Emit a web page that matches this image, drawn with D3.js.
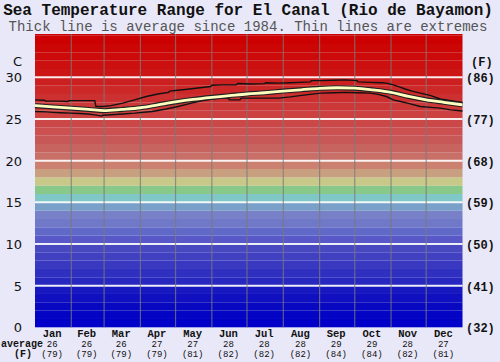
<!DOCTYPE html>
<html><head><meta charset="utf-8">
<script src="https://cdn.jsdelivr.net/npm/d3@7"></script>
<style>
html,body{margin:0;padding:0;background:#e8e8f8;}
svg{display:block;}
</style></head>
<body>
<svg id="chart" width="500" height="362"></svg>
<script>
// ---- data ----
const title = "Sea Temperature Range for El Canal (Rio de Bayamon)";
const subtitle = "Thick line is average since 1984. Thin lines are extremes";
const months = ["Jan","Feb","Mar","Apr","May","Jun","Jul","Aug","Sep","Oct","Nov","Dec"];
const monthStartDays = [0,31,59,90,120,151,181,212,243,273,304,334,365];
const monthAvgC = [26,26,26,27,27,28,28,28,29,29,28,27];
const monthAvgF = [79,79,79,79,81,82,82,82,84,84,82,81];
const cTicks = [0,5,10,15,20,25,30];
const fTicks = [32,41,50,59,68,77,86];
// background colour bands, one per degree C, from 0 upward
const bandColors = ["#0000c8","#0404c4","#0808c0","#1010c0","#1818c0","#2828c0","#3030c0","#3838c0","#4040c0","#4848c0",
  "#5858c8","#6068c8","#7078c8","#7880c8","#78a0c8","#80c8c8","#88c888","#c8c888","#c8a080","#cc8070",
  "#c87068","#c86460","#c85858","#cc5050","#cc4848","#cc4040","#cc3838","#cc3030","#cc2828","#cc2020",
  "#cc1515","#cc1010","#cc0a0a","#cc0505","#cc0000","#cc0000"];
// average line (day of year, deg C)
const avgDays = [0,15,31,46,59,74,90,105,120,135,151,166,181,196,212,227,243,258,273,288,304,319,334,349,365];
const avgTemp = [26.6,26.45,26.3,26.15,26.0,26.15,26.35,26.7,27.05,27.35,27.6,27.8,28.0,28.15,28.35,28.5,28.68,28.75,28.7,28.5,28.2,27.7,27.3,27.0,26.7];
// upper extreme
const maxDays = [0,8,9,20,28,29,40,51,52,58,65,75,85,95,105,114,115,122,132,141,150,151,159,172,173,184,196,197,208,218,226,235,236,244,255,265,275,276,286,296,300,306,311,316,322,329,338,346,355,365];
const maxTemp = [27.3,27.25,27.15,27.15,27.1,27.2,27.2,27.2,26.5,26.5,26.6,26.9,27.3,27.7,28.0,28.2,28.35,28.45,28.6,28.75,28.9,29.05,29.1,29.1,29.25,29.2,29.25,29.35,29.3,29.35,29.4,29.45,29.6,29.6,29.65,29.7,29.6,29.45,29.4,29.35,29.3,29.1,28.85,28.6,28.35,28.1,27.8,27.4,27.2,27.0];
// lower extreme
const minDays = [0,10,15,22,30,38,45,51,57,58,65,75,85,100,112,122,132,141,150,159,165,166,175,176,190,208,218,226,235,244,255,265,275,286,293,300,306,312,318,329,338,346,355,365];
const minTemp = [25.9,25.85,25.8,25.75,25.7,25.65,25.6,25.5,25.35,25.45,25.5,25.6,25.7,25.9,26.2,26.5,26.85,27.15,27.35,27.5,27.5,27.3,27.3,27.5,27.5,27.5,27.65,27.8,27.95,28.1,28.15,28.2,28.15,28.1,27.95,27.7,27.3,27.1,26.9,26.5,26.4,26.3,26.1,25.96];

// ---- drawing ----
const svg = d3.select("#chart");
const x = d3.scaleLinear().domain([0,365]).range([35,462.5]);
const y = d3.scaleLinear().domain([0,35.2]).range([327.3,34]);
const mono = "'Liberation Mono','Courier New',monospace";
const sans = "'DejaVu Sans',Verdana,sans-serif";

svg.append("rect").attr("width",500).attr("height",362).attr("fill","#e8e8f8");

// bands
svg.append("g").selectAll("rect").data(bandColors).join("rect")
  .attr("x", x(0)).attr("width", x(365)-x(0))
  .attr("y", (d,i)=> y(Math.min(i+1,35.2)))
  .attr("height", (d,i)=> y(i)-y(Math.min(i+1,35.2)))
  .attr("fill", d=>d);

// horizontal gridlines
svg.append("g").selectAll("line").data(cTicks.filter(t=>t>0)).join("line")
  .attr("x1", x(0)).attr("x2", x(365))
  .attr("y1", d=>y(d)).attr("y2", d=>y(d))
  .attr("stroke","#ffffff").attr("stroke-width",2).attr("opacity",0.9);

// month dividers
svg.append("g").selectAll("line").data(monthStartDays.slice(1,12)).join("line")
  .attr("x1", d=>x(d)).attr("x2", d=>x(d))
  .attr("y1", y(35.2)).attr("y2", y(0))
  .attr("stroke","#7a7a7a").attr("stroke-width",1.2).attr("opacity",0.75);

// lines
const plainLine = d3.line().x(d=>x(d[0])).y(d=>y(d[1]));
const smoothLine = d3.line().x(d=>x(d[0])).y(d=>y(d[1])).curve(d3.curveMonotoneX);
const maxPts = maxDays.map((d,i)=>[d,maxTemp[i]]);
const minPts = minDays.map((d,i)=>[d,minTemp[i]]);
const avgPts = avgDays.map((d,i)=>[d,avgTemp[i]]);
svg.append("path").attr("d", plainLine(maxPts)).attr("fill","none").attr("stroke","#111").attr("stroke-width",1.4);
svg.append("path").attr("d", plainLine(minPts)).attr("fill","none").attr("stroke","#111").attr("stroke-width",1.4);
svg.append("path").attr("d", smoothLine(avgPts)).attr("fill","none").attr("stroke","#222").attr("stroke-width",5);
svg.append("path").attr("d", smoothLine(avgPts)).attr("fill","none").attr("stroke","#ffffc0").attr("stroke-width",2.8);

// titles
svg.append("text").attr("x",248).attr("y",14.5).attr("text-anchor","middle")
  .attr("font-family",mono).attr("font-weight","bold").attr("font-size",16).attr("fill","#111").text(title);
svg.append("text").attr("x",248).attr("y",30.5).attr("text-anchor","middle")
  .attr("font-family",mono).attr("font-size",14).attr("fill","#555").text(subtitle);

// left axis
svg.append("g").selectAll("text").data(cTicks).join("text")
  .attr("x",22).attr("y",d=>y(d)+5).attr("text-anchor","end")
  .attr("font-family",sans).attr("font-size",13).attr("fill","#111").text(d=>d);
svg.append("text").attr("x",22).attr("y",66).attr("text-anchor","end")
  .attr("font-family",sans).attr("font-size",13).attr("fill","#111").text("C");

// right axis
svg.append("g").selectAll("text").data(fTicks).join("text")
  .attr("x",466).attr("y",(d,i)=>y(cTicks[i])+5)
  .attr("font-family",mono).attr("font-weight","bold").attr("font-size",12).attr("fill","#111").text(d=>"("+d+")");
svg.append("text").attr("x",471).attr("y",66)
  .attr("font-family",mono).attr("font-weight","bold").attr("font-size",12).attr("fill","#111").text("(F)");

// bottom labels
const mid = i => (x(monthStartDays[i])+x(monthStartDays[i+1]))/2 - 1;
const bl = svg.append("g").attr("font-family",mono).attr("font-weight","bold").attr("fill","#111").attr("text-anchor","middle");
bl.selectAll("text.m").data(months).join("text").attr("class","m")
  .attr("x",(d,i)=>mid(i)).attr("y",337).attr("font-size",10.5).text(d=>d);
bl.selectAll("text.c").data(monthAvgC).join("text").attr("class","c")
  .attr("x",(d,i)=>mid(i)).attr("y",346.5).attr("font-size",9).attr("font-weight","normal").text(d=>d);
bl.selectAll("text.f").data(monthAvgF).join("text").attr("class","f")
  .attr("x",(d,i)=>mid(i)).attr("y",356.5).attr("font-size",9).attr("font-weight","normal").text(d=>"("+d+")");
svg.append("text").attr("x",1).attr("y",346.5).attr("font-family",mono).attr("font-weight","bold")
  .attr("font-size",10).attr("fill","#111").text("average");
svg.append("text").attr("x",14).attr("y",356.5).attr("font-family",mono).attr("font-weight","bold")
  .attr("font-size",10).attr("fill","#111").text("(F)");
</script>
</body></html>
